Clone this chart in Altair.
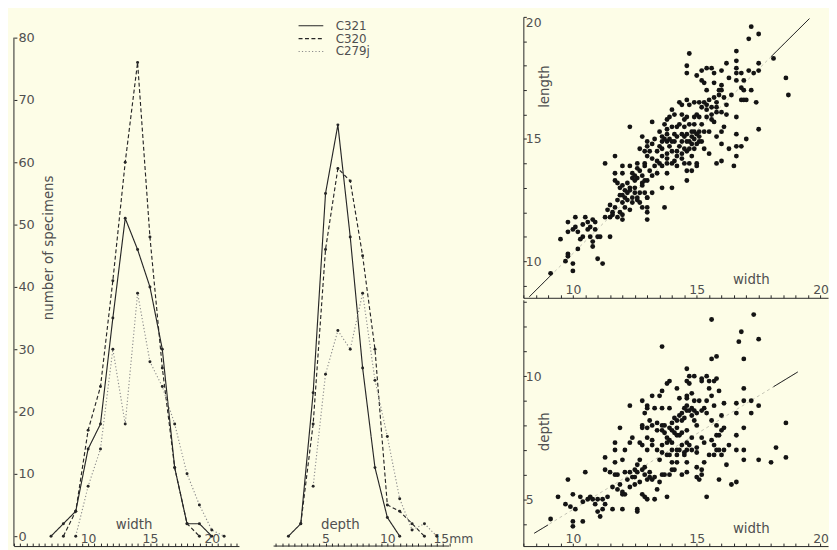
import altair as alt
import pandas as pd

# ---------------- data ----------------
series_names = ["C321", "C320", "C279j"]

width_C321_mm = [7, 8, 9, 10, 11, 12, 13, 14, 15, 16, 17, 18, 19, 20]
width_C321_n = [0, 2, 4, 14, 18, 35, 51, 46, 40, 30, 11, 2, 2, 0]
width_C320_mm = [8, 9, 10, 11, 12, 13, 14, 15, 16, 17, 18, 19]
width_C320_n = [0, 4, 17, 24, 41, 60, 76, 48, 27, 11, 2, 0]
width_C279j_mm = [9, 10, 11, 12, 13, 14, 15, 16, 17, 18, 19, 20, 21]
width_C279j_n = [0, 8, 14, 30, 18, 39, 28, 24, 18, 10, 5, 1, 0]

depth_C321_mm = [2, 3, 4, 5, 6, 7, 8, 9, 10, 11]
depth_C321_n = [0, 2, 23, 55, 66, 48, 27, 11, 3, 0]
depth_C320_mm = [3, 4, 5, 6, 7, 8, 9, 10, 11, 12, 13]
depth_C320_n = [2, 18, 46, 59, 57, 45, 30, 5, 4, 2, 0]
depth_C279j_mm = [4, 5, 6, 7, 8, 9, 10, 11, 12, 13, 14]
depth_C279j_n = [8, 26, 33, 30, 39, 25, 16, 6, 1, 2, 0]

# scatter: length against width
top_width = [
    17.2, 17.5, 17.1, 16.6, 17.5, 18.1, 18.6, 18.7, 14.7, 14.6,
    14.6, 15.4, 15.6, 15.7, 16.0, 16.2, 16.6, 16.6, 16.6, 16.8,
    17.1, 17.3, 17.5, 15.0, 15.2, 15.3, 15.4, 15.7, 16.0, 16.0,
    16.6, 16.8, 17.2, 16.9, 15.7, 15.9, 16.1, 15.8, 14.9, 15.1,
    15.3, 14.6, 14.3, 14.4, 14.7, 15.2, 15.4, 15.8, 15.8, 16.0,
    16.2, 15.7, 16.8, 16.9, 17.0, 17.4, 16.6, 16.1, 16.6, 17.5,
    15.8, 16.0, 16.6, 16.8, 16.6, 16.5, 16.0, 15.8, 15.3, 15.0,
    14.8, 15.0, 14.7, 14.6, 14.8, 14.6, 14.0, 14.1, 13.9, 14.4,
    14.6, 14.9, 15.1, 15.4, 15.6, 13.2, 12.3, 13.7, 14.0, 14.2,
    14.5, 14.7, 14.9, 15.1, 15.3, 15.5, 13.8, 14.1, 14.4, 12.8,
    13.0, 13.0, 13.3, 13.6, 13.8, 14.1, 14.4, 14.5, 14.6, 14.8,
    15.1, 13.6, 13.2, 14.6, 14.8, 12.7, 12.9, 13.1, 13.4, 13.6,
    13.8, 14.0, 14.2, 14.4, 14.6, 13.0, 13.4, 13.8, 14.1, 11.7,
    11.3, 11.7, 12.0, 12.3, 12.6, 12.7, 12.9, 13.1, 13.3, 13.6,
    13.8, 14.2, 14.5, 15.0, 11.7, 12.0, 12.4, 12.4, 12.2, 12.6,
    12.8, 13.0, 13.2, 13.4, 13.8, 13.6, 14.0, 11.8, 11.9, 12.1,
    12.3, 12.5, 12.7, 12.9, 13.0, 13.2, 12.8, 12.0, 12.1, 12.4,
    12.6, 13.0, 11.8, 12.0, 12.1, 12.3, 12.4, 12.6, 12.7, 12.8,
    13.0, 13.0, 13.7, 11.7, 11.6, 11.4, 11.6, 11.3, 11.5, 11.8,
    12.0, 12.0, 13.0, 9.8, 10.1, 10.5, 10.8, 10.9, 10.1, 10.6,
    10.7, 9.5, 9.8, 10.0, 10.2, 10.4, 10.6, 10.7, 10.8, 11.0,
    11.1, 11.5, 10.3, 10.2, 9.8, 9.8, 10.8, 11.0, 11.2, 9.7,
    10.0, 9.1, 10.0,
    13.9, 14.3, 14.5, 14.7, 14.9, 14.2, 14.4, 13.6, 12.9, 12.5,
    12.6, 13.5, 13.8, 14.9, 15.2, 15.6, 15.5, 13.5, 12.2, 12.5,
    14.9, 15.0, 15.1, 14.8, 15.2, 14.7, 13.7, 13.9, 14.0, 13.5,
    13.8, 14.2, 14.3, 14.5, 15.0, 15.4, 15.6, 14.0, 13.2, 12.8,
    12.5, 12.9, 12.3, 12.0, 11.9, 12.2, 11.5, 11.9, 10.9, 10.4,
    16.3, 16.4, 16.2, 15.9, 16.9, 15.2, 17.0, 16.3, 15.5, 16.0,
]
top_length = [
    19.6, 19.3, 19.1, 18.6, 18.1, 18.3, 17.5, 16.8, 18.5, 18.0,
    17.7, 17.9, 17.9, 17.7, 17.8, 18.1, 18.2, 17.9, 17.7, 17.7,
    17.8, 17.7, 17.8, 17.6, 17.4, 17.3, 17.0, 17.3, 17.2, 17.0,
    17.4, 17.1, 17.0, 17.0, 16.7, 16.8, 16.7, 16.5, 16.5, 16.5,
    16.5, 16.6, 16.5, 16.4, 16.4, 16.3, 16.2, 16.3, 16.1, 16.1,
    16.0, 15.7, 16.6, 16.6, 16.6, 16.5, 15.9, 15.5, 15.2, 15.4,
    15.1, 14.8, 14.7, 14.7, 14.3, 13.9, 14.1, 14.0, 14.6, 14.8,
    14.3, 14.0, 14.0, 13.7, 13.7, 13.3, 16.2, 16.0, 15.9, 16.0,
    15.9, 15.9, 15.9, 15.9, 15.8, 15.7, 15.5, 15.6, 15.5, 15.5,
    15.5, 15.6, 15.3, 15.3, 15.3, 15.3, 15.4, 15.2, 15.2, 15.1,
    14.9, 14.7, 15.0, 14.9, 14.9, 14.9, 14.9, 15.1, 14.9, 14.8,
    14.9, 15.1, 14.8, 15.2, 15.1, 14.6, 14.5, 14.5, 14.5, 14.6,
    14.4, 14.5, 14.5, 14.4, 14.5, 14.3, 14.1, 14.2, 14.1, 14.3,
    14.0, 13.6, 13.9, 13.9, 14.0, 13.7, 13.9, 13.7, 13.9, 13.9,
    14.0, 13.9, 14.0, 13.9, 13.3, 13.6, 13.6, 13.4, 13.2, 13.4,
    13.2, 13.3, 13.5, 13.6, 13.6, 13.0, 13.0, 13.2, 13.0, 12.9,
    13.0, 13.0, 12.8, 12.8, 12.6, 12.8, 13.1, 12.7, 12.6, 12.6,
    12.6, 12.6, 12.5, 12.4, 12.2, 12.1, 12.4, 12.5, 12.4, 12.2,
    12.2, 12.0, 12.2, 12.2, 12.0, 12.1, 11.9, 11.8, 11.8, 11.8,
    11.9, 11.7, 11.7, 11.6, 11.8, 11.8, 11.7, 11.6, 11.4, 11.6,
    11.4, 10.9, 11.2, 11.3, 11.2, 11.0, 11.3, 11.0, 10.8, 11.0,
    11.0, 11.0, 10.9, 10.5, 10.3, 10.2, 10.6, 10.1, 9.9, 10.0,
    9.9, 9.5, 9.6,
    15.0, 14.7, 14.6, 14.6, 14.6, 14.3, 14.2, 14.3, 14.0, 13.3,
    13.8, 15.3, 15.8, 15.6, 15.6, 16.0, 16.6, 14.0, 12.8, 12.8,
    15.0, 15.2, 15.1, 15.3, 14.9, 14.9, 15.0, 14.7, 14.9, 14.7,
    15.2, 15.1, 15.6, 15.8, 16.0, 16.4, 16.3, 14.0, 14.2, 13.5,
    13.5, 13.3, 12.9, 13.1, 12.7, 12.5, 12.3, 12.0, 11.3, 11.5,
    17.5, 16.8, 16.4, 17.0, 17.4, 17.8, 15.0, 14.6, 14.4, 15.3,
]

# scatter: depth against width
bot_width = [
    17.3, 15.6, 16.8, 16.7, 17.5, 13.6, 15.6, 15.8, 16.9, 14.6,
    14.7, 14.6, 14.9, 15.2, 15.2, 15.4, 15.5, 15.7, 15.8, 13.9,
    13.8, 14.2, 14.7, 15.5, 15.9, 16.9, 13.2, 13.5, 12.8, 13.0,
    12.3, 14.3, 14.6, 14.6, 14.9, 15.1, 15.4, 15.7, 16.1, 16.6,
    16.9, 17.2, 17.5, 17.2, 16.6, 16.0, 18.6, 14.5, 14.6, 14.7,
    14.9, 15.2, 15.4, 13.0, 13.3, 13.6, 13.9, 14.1, 14.2, 14.3,
    14.4, 14.5, 14.0, 13.6, 13.7, 12.8, 12.8, 13.0, 13.6, 14.9,
    15.0, 11.9, 15.6, 15.8, 14.6, 13.7, 13.8, 13.9, 13.8, 14.1,
    14.3, 14.4, 15.8, 16.0, 16.1, 16.6, 16.9, 12.3, 11.7, 12.7,
    12.8, 13.0, 13.0, 13.2, 13.4, 13.6, 14.0, 13.9, 14.2, 14.4,
    14.6, 14.6, 14.8, 15.0, 15.0, 15.7, 15.8, 15.9, 16.1, 16.6,
    16.9, 18.2, 18.6, 17.5, 16.9, 18.0, 11.3, 11.7, 12.0, 11.7,
    12.7, 13.6, 13.8, 14.0, 14.2, 14.2, 14.5, 14.6, 15.5, 15.7,
    16.0, 15.3, 11.3, 11.5, 11.7, 11.8, 12.1, 12.3, 12.5, 12.6,
    12.8, 12.9, 13.0, 13.1, 13.2, 13.3, 13.6, 13.7, 13.9, 14.0,
    14.1, 14.6, 15.0, 15.2, 15.0, 15.1, 15.9, 16.4, 16.6, 9.8,
    10.5, 11.6, 11.8, 12.0, 12.0, 12.1, 12.3, 12.5, 12.8, 12.9,
    13.0, 13.3, 13.8, 15.4, 9.4, 9.7, 9.9, 10.1, 10.0, 10.6,
    10.7, 10.8, 11.0, 10.9, 11.2, 11.0, 11.6, 12.0, 12.6, 12.6,
    9.1, 10.0, 10.4, 10.0, 11.1,
    14.0, 14.2, 13.4, 14.8, 15.3, 12.5, 12.2, 13.5, 14.4, 14.8,
    14.6, 14.8, 15.0, 15.3, 14.4, 13.2, 13.4, 13.1, 13.9, 14.2,
    14.0, 14.3, 14.5, 14.7, 13.2, 13.5, 12.6, 12.9, 13.1, 12.4,
    12.7, 11.9, 11.4, 11.2, 11.3, 10.4, 10.3, 15.2, 15.6, 15.9,
    16.3, 15.6, 14.8, 13.6, 12.9, 12.4, 12.1, 16.2, 15.2, 13.4,
]
bot_depth = [
    12.5, 12.3, 11.8, 11.4, 11.5, 11.2, 10.7, 10.8, 10.7, 10.3,
    10.0, 9.8, 10.0, 9.9, 9.8, 10.0, 9.8, 9.8, 9.9, 9.8,
    9.7, 9.5, 9.7, 9.5, 9.4, 9.5, 9.2, 9.2, 9.0, 8.8,
    8.8, 9.1, 9.2, 9.1, 9.0, 9.0, 9.0, 8.8, 8.9, 8.9,
    9.0, 9.0, 8.8, 8.5, 8.5, 8.4, 8.1, 8.7, 8.6, 8.6,
    8.6, 8.6, 8.5, 8.7, 8.7, 8.7, 8.7, 8.3, 8.2, 8.4,
    8.2, 8.3, 8.1, 8.0, 8.0, 8.0, 7.9, 7.9, 7.8, 8.2,
    8.0, 7.9, 8.2, 8.0, 7.8, 7.7, 7.5, 7.4, 7.3, 7.7,
    7.6, 7.7, 7.6, 7.8, 7.9, 7.6, 7.9, 7.3, 7.3, 7.3,
    7.2, 7.0, 7.5, 7.4, 7.0, 7.2, 7.0, 6.8, 7.0, 7.2,
    7.3, 7.0, 7.0, 7.1, 6.9, 7.2, 7.0, 7.0, 7.0, 7.0,
    7.0, 7.1, 6.7, 6.6, 6.6, 6.5, 6.7, 7.0, 6.6, 6.5,
    6.6, 6.9, 6.8, 6.5, 6.8, 6.5, 6.8, 6.5, 6.8, 6.8,
    6.8, 6.5, 6.2, 6.1, 6.0, 6.0, 6.1, 6.1, 6.2, 6.1,
    6.2, 6.0, 5.8, 5.9, 5.8, 5.9, 6.0, 6.0, 6.0, 6.2,
    6.2, 6.1, 6.3, 6.2, 5.9, 5.8, 5.8, 5.6, 5.7, 5.8,
    6.1, 5.5, 5.4, 5.3, 5.2, 5.2, 5.5, 5.6, 5.2, 5.1,
    5.0, 5.0, 5.1, 5.1, 5.1, 4.8, 4.7, 4.6, 5.2, 5.0,
    5.1, 5.0, 5.0, 4.8, 4.6, 4.5, 4.6, 4.6, 4.6, 4.5,
    4.2, 4.1, 4.1, 3.9, 4.3,
    7.8, 7.9, 8.1, 7.5, 7.3, 5.9, 5.8, 5.7, 6.0, 8.4,
    8.8, 8.7, 8.5, 8.7, 8.5, 8.0, 7.8, 8.2, 7.9, 7.6,
    7.3, 7.0, 6.9, 7.2, 7.2, 6.6, 6.4, 6.3, 6.1, 5.9,
    5.7, 5.6, 5.1, 5.0, 4.8, 4.9, 5.1, 7.5, 7.4, 7.6,
    7.2, 9.2, 9.3, 9.4, 8.5, 7.5, 7.0, 6.4, 6.0, 5.4,
]

# fitted lines (visible end segments)
top_line_width = [8.24, 9.2, 18.0, 19.55]
top_line_length = [8.54, 9.51, 18.37, 19.93]
bot_line_width = [8.44, 9.0, 18.1, 19.08]
bot_line_depth = [3.62, 3.96, 9.57, 10.17]
line_segment = [0, 0, 1, 1]

count_ticks = [0, 10, 20, 30, 40, 50, 60, 70, 80]
width_mm_ticks = [4 + 0.5 * i for i in range(37)]
width_mm_labels = [10, 15, 20]
depth_mm_ticks = [1 + 0.5 * i for i in range(29)]
depth_mm_labels = [5, 10, 15.3]
scatter_w_ticks = [8 + 0.5 * i for i in range(25)]
scatter_w_labels = [10, 15, 20]
length_ticks = list(range(9, 21))
length_labels = [10, 15, 20]
depth_ticks = list(range(4, 14))
depth_labels = [5, 10]

# ---------------- styling ----------------
FONT = "DejaVu Sans"
INK = "#262626"
TXT = "#505050"
BG = "#fdfde7"

H = 535
PX_MM = 12.5
W1 = 227.5
GAP = 34.5
DEPTH_LO, DEPTH_HI = 0.8, 15
# depth panel is widened so that one uniform spacing places the scatter panels
W2 = (DEPTH_HI - DEPTH_LO) * PX_MM + 40
DEPTH_DOM_HI = DEPTH_LO + W2 / PX_MM
SC_DOM = [8, 20.3]
W3 = 308
H_TOP = 284
H_BOT = H - H_TOP - 2
Y_LO, Y_HI = -1.59, 83.33


def x_ticks_axis(height, values, title, tx, ty, domain=True):
    return alt.Axis(
        orient="top", offset=-height, values=values, labels=False,
        tickSize=3, tickColor=INK, tickWidth=1, domain=domain, domainColor=INK,
        domainWidth=1, grid=False,
        title=title, titleX=tx, titleY=ty, titleFont=FONT, titleFontSize=13.5,
        titleFontWeight="normal", titleColor=TXT, titleAlign="center",
        titleBaseline="middle", titleAngle=0,
    )


def x_label_axis(height, values, expr, lsize):
    return alt.Axis(
        orient="top", offset=-height, values=values, labelExpr=expr,
        ticks=False, domain=False, grid=False, labelPadding=1,
        labelFontSize=lsize, labelColor=TXT, labelFont=FONT,
        labelOverlap=False, labelFlush=False, title=None,
    )


def y_ticks_axis(width, values, title, tx, ty, domain=True):
    return alt.Axis(
        orient="right", offset=-width, values=values, labels=False,
        tickSize=3, tickColor=INK, tickWidth=1, domain=domain, domainColor=INK,
        domainWidth=1, grid=False,
        title=title, titleX=tx, titleY=ty, titleFont=FONT, titleFontSize=13.5,
        titleFontWeight="normal", titleColor=TXT, titleAlign="center",
        titleBaseline="middle", titleAngle=270,
    )


def y_label_axis(width, values, lsize, pad):
    return alt.Axis(
        orient="right", offset=-width, values=values, ticks=False, domain=False,
        grid=False, labelPadding=pad, labelFontSize=lsize, labelColor=TXT,
        labelFont=FONT, labelOverlap=False, labelFlush=True,
        labelAlign="left", title=None,
    )


def hist_frame(mm_lists, n_lists):
    rows = []
    for name, mm, n in zip(series_names, mm_lists, n_lists):
        for a, b in zip(mm, n):
            rows.append({"series": name, "mm": a, "n": b})
    return pd.DataFrame(rows)


legend = alt.Legend(
    orient="none", legendX=293.25, legendY=2, title=None, symbolType="M-2,0H2",
    symbolSize=156.25, symbolStrokeWidth=1.2, labelFontSize=12, labelColor=TXT,
    labelFont=FONT, labelOffset=18, rowPadding=0, padding=0,
)
color_enc = alt.Color(
    "series:N",
    scale=alt.Scale(domain=series_names, range=[INK, INK, "#8c8c8c"]),
    legend=legend,
)
dash_enc = alt.StrokeDash(
    "series:N",
    scale=alt.Scale(domain=series_names, range=[[1, 0], [4, 2.5], [1.2, 2.2]]),
    legend=legend,
)
yscale = alt.Scale(domain=[Y_LO, Y_HI], nice=False, zero=False)


def hist_panel(df, xdom, width, ticks, labels, expr, title, title_x, with_y, axis_span=None):
    xs = alt.Scale(domain=xdom, nice=False, zero=False)
    if with_y:
        yax = alt.Axis(
            orient="right", offset=-width, values=count_ticks, tickSize=3,
            tickColor=INK, tickWidth=1, domain=False, grid=False, labelPadding=1,
            labelFontSize=13, labelColor=TXT, labelFont=FONT, labelOverlap=False,
            labelFlush=False, labelAlign="left", labelBaseline="middle",
            title="number of specimens", titleX=35, titleY=233, titleFont=FONT,
            titleFontSize=13.5, titleFontWeight="normal", titleColor=TXT,
            titleAlign="center", titleBaseline="middle", titleAngle=270,
        )
    else:
        yax = None
    lines = alt.Chart(df).mark_line(strokeWidth=1.15).encode(
        x=alt.X("mm:Q", scale=xs,
                axis=x_ticks_axis(H, ticks, title, title_x, -22, domain=axis_span is None)),
        y=alt.Y("n:Q", scale=yscale, axis=yax),
        color=color_enc, strokeDash=dash_enc, detail="series:N",
    )
    pts = alt.Chart(df).mark_point(filled=True, size=9, color=INK, opacity=1).encode(
        x=alt.X("mm:Q", scale=xs, axis=x_label_axis(H, labels, expr, 12.5)),
        y=alt.Y("n:Q", scale=yscale),
    )
    layers = [lines, pts]
    if with_y:
        rule = alt.Chart(pd.DataFrame({"lo": [Y_LO], "hi": [max(count_ticks)]})).mark_rule(
            color=INK, strokeWidth=1
        ).encode(x=alt.value(0), y=alt.Y("lo:Q", scale=yscale), y2="hi:Q")
        layers.append(rule)
    if axis_span is not None:
        base = alt.Chart(pd.DataFrame({"a": [axis_span[0]], "b": [axis_span[1]]})).mark_rule(
            color=INK, strokeWidth=1
        ).encode(x=alt.X("a:Q", scale=xs, axis=None), x2="b:Q", y=alt.value(H))
        layers.append(base)
    return (
        alt.layer(*layers)
        .resolve_axis(x="independent")
        .properties(width=width, height=H)
    )


width_df = hist_frame([width_C321_mm, width_C320_mm, width_C279j_mm],
                      [width_C321_n, width_C320_n, width_C279j_n])
depth_df = hist_frame([depth_C321_mm, depth_C320_mm, depth_C279j_mm],
                      [depth_C321_n, depth_C320_n, depth_C279j_n])

width_chart = hist_panel(width_df, [4, 22.2], W1, width_mm_ticks, width_mm_labels,
                         "datum.label", "width", 121, True)
depth_chart = hist_panel(
    depth_df, [DEPTH_LO, DEPTH_DOM_HI], W2, depth_mm_ticks, depth_mm_labels,
    "datum.value > 15 ? '15mm' : datum.label",
    "depth", 67, False, axis_span=[DEPTH_LO, DEPTH_HI],
)


def scatter_panel(wv, yv, ydom, height, yticks, ylabels, ytitle, ytitle_y, lw, ly):
    xs = alt.Scale(domain=SC_DOM, nice=False, zero=False)
    ys = alt.Scale(domain=ydom, nice=False, zero=False)
    df = pd.DataFrame({"w": wv, "v": yv})
    ldf = pd.DataFrame({"w": lw, "v": ly, "seg": line_segment})
    fdf = pd.DataFrame({"w": [lw[0], lw[-1]], "v": [ly[0], ly[-1]]})
    faint = alt.Chart(fdf).mark_line(color="#b5b5a8", strokeWidth=0.8, strokeDash=[3, 3]).encode(
        x=alt.X("w:Q", scale=xs,
                axis=x_ticks_axis(height, scatter_w_ticks, "width", 230, -18)),
        y=alt.Y("v:Q", scale=ys,
                axis=y_ticks_axis(W3, yticks, ytitle, 21, ytitle_y)),
    )
    segs = alt.Chart(ldf).mark_line(color=INK, strokeWidth=1).encode(
        x=alt.X("w:Q", scale=xs, axis=None), y=alt.Y("v:Q", scale=ys, axis=None),
        detail="seg:N",
    )
    dots = alt.Chart(df).mark_circle(size=24, color="#141414", opacity=1).encode(
        x=alt.X("w:Q", scale=xs, axis=x_label_axis(height, scatter_w_labels, "datum.label", 12.5)),
        y=alt.Y("v:Q", scale=ys, axis=y_label_axis(W3, ylabels, 12.5, 2)),
    )
    return (
        alt.layer(faint, segs, dots)
        .resolve_axis(x="independent", y="independent")
        .properties(width=W3, height=height)
    )


top_chart = scatter_panel(top_width, top_length, [8.5, 20], H_TOP, length_ticks,
                          length_labels, "length", 70, top_line_width, top_line_length)
bot_chart = scatter_panel(bot_width, bot_depth, [3.1, 13.1], H_BOT, depth_ticks,
                          depth_labels, "depth", 133, bot_line_width, bot_line_depth)

right = alt.vconcat(top_chart, bot_chart, spacing=2, bounds="flush")

chart = (
    alt.hconcat(width_chart, depth_chart, right, spacing=GAP, bounds="flush")
    .resolve_scale(color="shared", strokeDash="shared")
    .properties(padding={"left": 5, "top": 5, "right": 0, "bottom": 0}, background=BG)
    .configure_view(strokeWidth=0)
)

chart.save("out.html", embed_options={"renderer": "svg", "actions": False})
